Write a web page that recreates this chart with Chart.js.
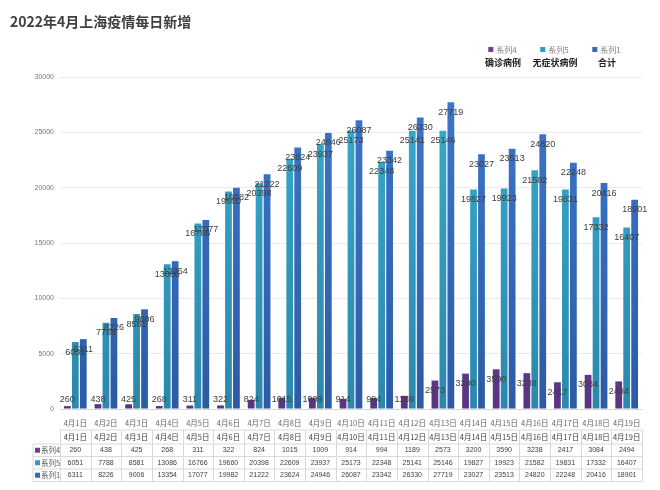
<!DOCTYPE html>
<html>
<head>
<meta charset="utf-8">
<script src="https://cdn.jsdelivr.net/npm/chart.js@4/dist/chart.umd.min.js"></script>
<style>
  html, body { margin: 0; padding: 0; background: #fff; }
  #wrap { width: 660px; height: 490px; position: relative; }
</style>
</head>
<body>
<div id="wrap"><canvas id="myChart" width="660" height="490"></canvas></div>
<script>
// data
const categories = ["4月1日","4月2日","4月3日","4月4日","4月5日","4月6日","4月7日","4月8日","4月9日","4月10日",
  "4月11日","4月12日","4月13日","4月14日","4月15日","4月16日","4月17日","4月18日","4月19日"];
const confirmed = [260,438,425,268,311,322,824,1015,1009,914,994,1189,2573,3200,3590,3238,2417,3084,2494];
const asymptomatic = [6051,7788,8581,13086,16766,19660,20398,22609,23937,25173,22348,25141,25146,19827,19923,21582,19831,17332,16407];
const total = [6311,8226,9006,13354,17077,19982,21222,23624,24946,26087,23342,26330,27719,23027,23513,24820,22248,20416,18901];
const seriesNames = ["系列4","系列5","系列1"];
const seriesNotes = ["确诊病例","无症状病例","合计"];
const yTicks = [0,5000,10000,15000,20000,25000,30000];

const colors = [
  ["#7d52ab", "#5a3483"],
  ["#3aaccc", "#2a88ad"],
  ["#3d78cc", "#2c5ba6"]
];
const solid = ["#6a4197", "#3399bd", "#3469b8"];

function grad(idx) {
  return function (ctx) {
    let area = ctx.chart.chartArea;
    if (!area) return solid[idx];
    let g = ctx.chart.ctx.createLinearGradient(0, area.top, 0, area.bottom);
    g.addColorStop(0, colors[idx][0]);
    g.addColorStop(1, colors[idx][1]);
    return g;
  };
}

// value labels near bar tops
const valueLabels = {
  id: "valueLabels",
  afterDatasetsDraw(chart) {
    let ctx = chart.ctx;
    ctx.save();
    ctx.font = "9px 'Liberation Sans', Arial, sans-serif";
    ctx.fillStyle = "#404040";
    ctx.textAlign = "center";
    ctx.textBaseline = "middle";
    chart.data.datasets.forEach((ds, di) => {
      let meta = chart.getDatasetMeta(di);
      meta.data.forEach((bar, i) => {
        let y = Math.min(bar.y + 10, bar.base - 9);
        ctx.fillText(String(ds.data[i]), bar.x, y);
      });
    });
    ctx.restore();
  }
};

// title, legend and data table
const extras = {
  id: "extras",
  afterDraw(chart) {
    let ctx = chart.ctx;
    let x = chart.scales.x;
    let n = categories.length;
    let colW = x.width / n;
    ctx.save();

    // title
    ctx.font = "bold 14px 'Noto Sans CJK SC', sans-serif";
    ctx.fillStyle = "#404040";
    ctx.textAlign = "left";
    ctx.textBaseline = "middle";
    ctx.fillText("2022年4月上海疫情每日新增", 10, 22);

    // legend
    let legX = [503, 555, 607];
    seriesNames.forEach((name, i) => {
      ctx.font = "8px 'Noto Sans CJK SC', sans-serif";
      let w = ctx.measureText(name).width;
      let sx = legX[i] - (w + 9) / 2;
      ctx.fillStyle = solid[i];
      ctx.fillRect(sx, 47, 5, 5);
      ctx.fillStyle = "#808080";
      ctx.textAlign = "left";
      ctx.fillText(name, sx + 8, 50);
      ctx.font = "bold 9px 'Noto Sans CJK SC', sans-serif";
      ctx.fillStyle = "#222";
      ctx.textAlign = "center";
      ctx.fillText(seriesNotes[i], legX[i], 63);
    });

    // table
    let rows = [430, 444, 456.5, 469, 481.5];
    let left = 33;
    ctx.strokeStyle = "#d9d9d9";
    ctx.lineWidth = 1;
    ctx.beginPath();
    ctx.moveTo(x.left, rows[0]); ctx.lineTo(x.right, rows[0]);
    for (let r = 1; r < rows.length; r++) {
      ctx.moveTo(left, rows[r]); ctx.lineTo(x.right, rows[r]);
    }
    ctx.moveTo(left, rows[1]); ctx.lineTo(left, rows[4]);
    for (let i = 0; i <= n; i++) {
      let vx = Math.round(x.left + i * colW) + 0.5;
      ctx.moveTo(vx, rows[0]); ctx.lineTo(vx, rows[4]);
    }
    ctx.stroke();

    ctx.textAlign = "center";
    ctx.textBaseline = "middle";
    ctx.fillStyle = "#404040";
    ctx.font = "7.5px 'Noto Sans CJK SC', sans-serif";
    categories.forEach((c, i) => {
      ctx.fillText(c, x.getPixelForValue(i), (rows[0] + rows[1]) / 2);
    });
    let rowData = [confirmed, asymptomatic, total];
    rowData.forEach((arr, r) => {
      let cy = (rows[r + 1] + rows[r + 2]) / 2;
      ctx.font = "7px 'Liberation Sans', Arial, sans-serif";
      ctx.fillStyle = "#404040";
      ctx.textAlign = "center";
      arr.forEach((v, i) => ctx.fillText(String(v), x.getPixelForValue(i), cy));
      ctx.fillStyle = solid[r];
      ctx.fillRect(left + 2, cy - 2.5, 5, 5);
      ctx.fillStyle = "#555";
      ctx.textAlign = "left";
      ctx.font = "7.5px 'Noto Sans CJK SC', sans-serif";
      ctx.fillText(seriesNames[r], left + 8, cy);
    });
    ctx.restore();
  }
};

let chartCtx = document.getElementById("myChart").getContext("2d");
window.myChart = new Chart(chartCtx, {
  type: "bar",
  data: {
    labels: categories,
    datasets: [
      { label: seriesNames[0], data: confirmed, backgroundColor: grad(0) },
      { label: seriesNames[1], data: asymptomatic, backgroundColor: grad(1) },
      { label: seriesNames[2], data: total, backgroundColor: grad(2) }
    ]
  },
  options: {
    responsive: false,
    animation: false,
    layout: { padding: { left: 0, top: 77, right: 18, bottom: 61 } },
    datasets: { bar: { categoryPercentage: 0.78, barPercentage: 0.85 } },
    plugins: { legend: { display: false }, tooltip: { enabled: false } },
    scales: {
      x: {
        grid: { display: false },
        border: { color: "#d9d9d9" },
        ticks: { color: "#666", font: { size: 7.5, family: "'Noto Sans CJK SC', sans-serif" }, maxRotation: 0, autoSkip: false, padding: 2 },
        afterFit(s) { s.height = 20; }
      },
      y: {
        min: 0,
        max: 30000,
        afterBuildTicks(s) { s.ticks = yTicks.map(v => ({ value: v })); },
        grid: { color: "#ebebeb", drawTicks: false },
        border: { display: false },
        ticks: {
          color: "#777",
          font: { size: 7, family: "'Liberation Sans', Arial, sans-serif" },
          padding: 6,
          callback: v => String(v)
        },
        afterFit(s) { s.width = 60; }
      }
    }
  },
  plugins: [valueLabels, extras]
});
</script>
</body>
</html>
